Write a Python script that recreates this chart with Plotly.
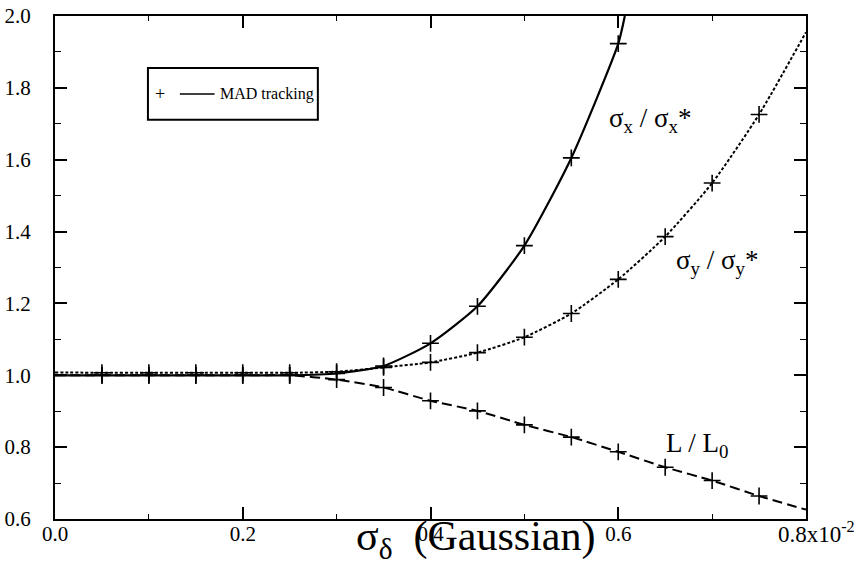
import plotly.graph_objects as go

# ---- data (x in units of 1e-2) ----
x_pts = [0.0, 0.05, 0.10, 0.15, 0.20, 0.25, 0.30, 0.35, 0.40, 0.45, 0.50, 0.55, 0.60, 0.65, 0.70, 0.75, 0.80]

sx_x = [0.0, 0.05, 0.10, 0.15, 0.20, 0.25, 0.30, 0.35, 0.40, 0.45, 0.50, 0.55, 0.60, 0.607]
sx_y = [1.000, 1.000, 1.000, 1.000, 1.000, 1.000, 1.005, 1.026, 1.089, 1.192, 1.361, 1.605, 1.923, 2.000]

sy_x = x_pts
sy_y = [1.008, 1.007, 1.007, 1.007, 1.007, 1.007, 1.010, 1.022, 1.036, 1.063, 1.106, 1.172, 1.267, 1.386, 1.535, 1.726, 1.955]

lum_x = x_pts
lum_y = [1.000, 1.000, 1.000, 1.000, 1.000, 1.000, 0.988, 0.966, 0.929, 0.901, 0.862, 0.828, 0.787, 0.744, 0.707, 0.664, 0.626]

sx_mark_x = sx_x[1:13]
sx_mark_y = sx_y[1:13]
sy_mark_x = sy_x[1:16]
sy_mark_y = sy_y[1:16]
lum_mark_x = lum_x[1:16]
lum_mark_y = lum_y[1:16]

y_ticks = [0.6, 0.8, 1.0, 1.2, 1.4, 1.6, 1.8, 2.0]
y_ticktext = ["0.6", "0.8", "1.0", "1.2", "1.4", "1.6", "1.8", "2.0"]
x_ticks = [0.0, 0.2, 0.4, 0.6, 0.8]
x_ticktext = ["0.0", "0.2", "0.4", "0.6", ""]

FONT = "Liberation Serif, Times New Roman, serif"
fig = go.Figure()

line_styles = [
    (sx_x, sx_y, "solid", 2.2),
    (sy_x, sy_y, "3px,2px", 2.0),
    (lum_x, lum_y, "10px,5px", 2.0),
]
for xs, ys, dash, w in line_styles:
    fig.add_trace(go.Scatter(x=xs, y=ys, mode="lines",
                             line=dict(color="black", width=w, dash=dash, shape="spline", smoothing=0.6),
                             showlegend=False, hoverinfo="skip"))

for xs, ys in [(sx_mark_x, sx_mark_y), (sy_mark_x, sy_mark_y), (lum_mark_x, lum_mark_y)]:
    fig.add_trace(go.Scatter(x=xs, y=ys, mode="markers",
                             marker=dict(symbol="cross-thin", size=12, line=dict(color="black", width=1.6)),
                             showlegend=False, hoverinfo="skip"))

axis_common = dict(showline=True, linecolor="black", linewidth=2, mirror="allticks",
                   ticks="inside", tickcolor="black", tickwidth=1.5, showgrid=False, zeroline=False,
                   automargin=False,
                   tickfont=dict(family=FONT, size=21, color="black"))

fig.update_xaxes(range=[0, 0.8], tickvals=x_ticks, ticktext=x_ticktext, ticklen=12,
                 ticklabelstandoff=-5,
                 minor=dict(ticks="inside", ticklen=5, dtick=0.1, tickcolor="black", tickwidth=1.2),
                 **axis_common)
fig.update_yaxes(range=[0.6, 2.0], tickvals=y_ticks, ticktext=y_ticktext, ticklen=12,
                 ticklabelstandoff=18,
                 minor=dict(ticks="inside", ticklen=6, dtick=0.1, tick0=0.6, tickcolor="black", tickwidth=1.2),
                 **axis_common)

# legend box
fig.add_shape(type="rect", xref="x", yref="y", x0=0.099, x1=0.280, y0=1.711, y1=1.855,
              line=dict(color="black", width=2), fillcolor="white", layer="above")
fig.add_annotation(xref="x", yref="y", x=0.112, y=1.783, showarrow=False,
                   text="+", font=dict(family=FONT, size=18, color="black"))
fig.add_shape(type="line", xref="x", yref="y", x0=0.133, x1=0.170, y0=1.783, y1=1.783,
              line=dict(color="black", width=1.5), layer="above")
fig.add_annotation(xref="x", yref="y", x=0.174, y=1.783, xanchor="left", showarrow=False,
                   text="MAD tracking", font=dict(family=FONT, size=16, color="black"))

# curve labels
fig.add_annotation(xref="x", yref="y", x=0.634, y=1.71, showarrow=False,
                   text="σ<sub>x</sub> / σ<sub>x</sub>*", font=dict(family=FONT, size=27, color="black"))
fig.add_annotation(xref="x", yref="y", x=0.706, y=1.315, showarrow=False,
                   text="σ<sub>y</sub> / σ<sub>y</sub>*", font=dict(family=FONT, size=27, color="black"))
fig.add_annotation(xref="x", yref="y", x=0.684, y=0.806, showarrow=False,
                   text="L / L<sub>0</sub>", font=dict(family=FONT, size=27, color="black"))

# last x tick label with exponent
fig.add_annotation(xref="x", yref="paper", x=0.8, y=0, yanchor="top", xanchor="left", xshift=-30, yshift=3,
                   showarrow=False, text="0.8x10<sup>-2</sup>", font=dict(family=FONT, size=23, color="black"))

# axis title
fig.add_annotation(xref="x", yref="paper", x=0.448, y=-0.0895, yanchor="bottom", yshift=-2, showarrow=False,
                   borderpad=0, text="σ<sub>δ</sub>  (Gaussian)", font=dict(family=FONT, size=42, color="black"))

fig.update_layout(width=866, height=564, margin=dict(l=55, r=60, t=16, b=45),
                  plot_bgcolor="white", paper_bgcolor="white", showlegend=False)

fig.write_html("out.html")
